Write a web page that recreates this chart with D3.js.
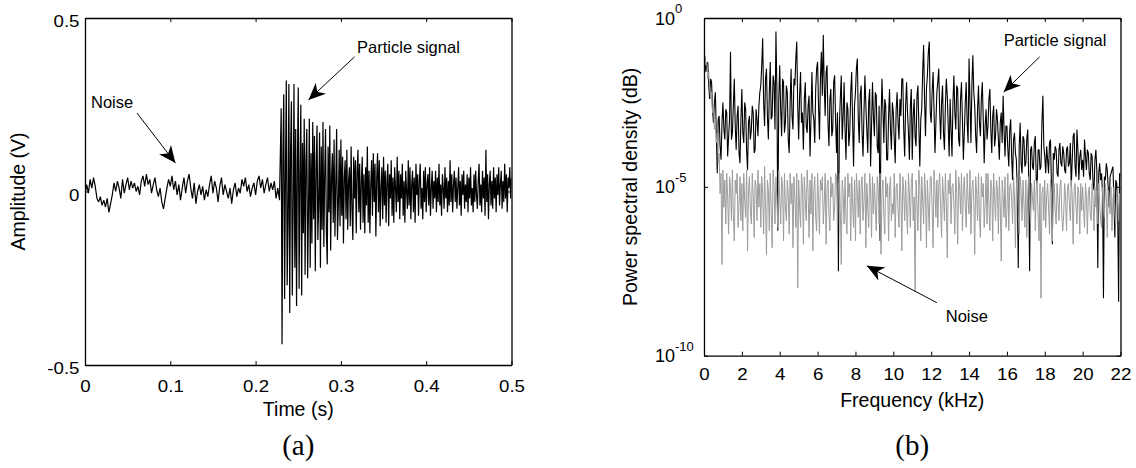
<!DOCTYPE html>
<html>
<head>
<meta charset="utf-8">
<script src="https://cdn.jsdelivr.net/npm/d3@7"></script>
<style>
  body { margin: 0; background: #fff; }
  svg { display: block; font-family: "Liberation Sans", Arial, sans-serif; }
  .caption { font-family: "Liberation Serif", "Times New Roman", serif; font-size: 29px; }
</style>
</head>
<body>
<svg id="chart" width="1136" height="468"></svg>
<script>
// (a) time signal, amplitude in V
// 0 .. 0.228 s, background noise, one sample every 2 ms
var noiseStart = 0, noiseStep = 0.002;
var noiseAmp = [
  -0.010, 0.020, -0.005, 0.035, 0.010, 0.040, 0.015, -0.020, -0.030, -0.015,
  -0.040, -0.025, -0.045, -0.020, -0.060, -0.035, -0.010, 0.025, 0.000, 0.030,
  0.010, -0.020, 0.035, -0.005, 0.020, 0.040, 0.005, 0.030, 0.010, 0.025,
  0.000, 0.015, -0.010, 0.030, 0.045, 0.015, 0.050, 0.020, 0.035, -0.005,
  0.020, 0.040, 0.005, -0.015, 0.010, -0.030, -0.050, -0.020, 0.010, 0.035,
  0.015, 0.045, 0.005, 0.030, -0.010, 0.020, -0.025, 0.010, 0.040, -0.005,
  0.030, 0.050, 0.010, -0.020, 0.025, -0.035, 0.000, 0.020, -0.010, 0.015,
  -0.025, 0.005, -0.015, 0.020, 0.045, -0.005, 0.030, 0.010, -0.030, 0.015,
  0.040, -0.010, 0.020, 0.000, -0.020, 0.010, -0.035, 0.005, 0.025, -0.015,
  0.010, -0.005, 0.035, 0.015, 0.040, 0.000, 0.020, -0.015, 0.010, 0.025,
  -0.010, 0.030, 0.045, 0.010, 0.035, -0.005, 0.020, 0.040, 0.000, 0.025,
  0.005, 0.030, -0.020, 0.010, -0.025
];
// 0.230 .. 0.500 s, particle impact, one sample every 1 ms (one row per 10 ms)
var burstStart = 0.230, burstStep = 0.001;
var burstAmp = [
  0.24, -0.44, 0.10, 0.28, -0.31, 0.05, 0.32, -0.27, -0.08, 0.31,
  -0.35, 0.12, 0.26, -0.30, -0.05, 0.31, -0.22, 0.18, -0.33, 0.08,
  0.30, -0.28, 0.04, 0.25, -0.30, 0.14, -0.12, 0.21, -0.24, 0.09,
  0.18, -0.25, -0.06, 0.21, -0.22, 0.11, -0.15, 0.20, -0.08, 0.16,
  -0.23, 0.07, 0.19, -0.14, -0.03, 0.17, -0.22, 0.13, -0.11, 0.20,
  -0.16, 0.05, 0.18, -0.12, -0.21, 0.13, -0.06, 0.19, -0.17, 0.04,
  0.11, -0.09, 0.15, -0.13, 0.02, 0.18, -0.14, -0.04, 0.12, -0.10,
  0.15, -0.07, 0.10, -0.15, 0.04, 0.09, -0.08, 0.12, -0.11, 0.03,
  0.07, -0.10, 0.13, -0.05, -0.14, 0.10, -0.02, 0.09, -0.12, 0.06,
  0.12, -0.06, 0.08, -0.11, 0.03, 0.10, -0.09, 0.05, -0.12, 0.07,
  -0.04, 0.13, -0.09, 0.06, -0.12, 0.02, 0.09, -0.07, 0.11, -0.03,
  0.08, -0.13, 0.04, 0.11, -0.06, 0.09, -0.10, 0.01, 0.07, -0.08,
  0.10, -0.04, 0.06, -0.09, 0.03, 0.08, -0.10, 0.05, -0.02, 0.09,
  -0.07, 0.04, -0.09, 0.07, 0.01, -0.06, 0.10, -0.03, 0.06, -0.08,
  0.05, -0.02, 0.08, -0.07, 0.03, -0.09, 0.06, 0.00, -0.05, 0.09,
  -0.04, 0.07, -0.08, 0.02, 0.06, -0.06, 0.04, -0.09, 0.08, -0.01,
  0.05, -0.07, 0.03, 0.08, -0.05, 0.01, -0.08, 0.06, -0.03, 0.07,
  -0.06, 0.02, 0.05, -0.04, 0.07, -0.07, 0.01, 0.06, -0.05, 0.03,
  -0.02, 0.06, -0.06, 0.04, -0.03, 0.08, -0.04, 0.02, -0.07, 0.05,
  0.01, -0.05, 0.07, -0.02, 0.04, -0.06, 0.03, -0.04, 0.09, -0.03,
  0.05, -0.06, 0.02, 0.06, -0.03, 0.04, -0.05, 0.01, 0.07, -0.04,
  0.03, -0.07, 0.05, -0.01, 0.06, -0.05, 0.02, -0.03, 0.05, -0.06,
  0.04, -0.02, 0.07, -0.04, 0.01, -0.06, 0.05, -0.03, 0.06, -0.01,
  -0.05, 0.03, 0.08, -0.04, 0.02, -0.06, 0.06, -0.02, 0.04, -0.07,
  0.12, -0.03, 0.05, -0.08, 0.02, 0.06, -0.04, 0.03, -0.05, 0.07,
  -0.02, 0.04, -0.06, 0.05, -0.01, 0.07, -0.04, 0.02, 0.06, -0.05,
  0.03, -0.03, 0.08, -0.02, 0.05, -0.06, 0.04, 0.01, 0.07, -0.02,
  0.04
];
var timeTicks = [0, 0.1, 0.2, 0.3, 0.4, 0.5];
var ampTicks = [-0.5, 0, 0.5];

// (b) spectrum, log10 of the PSD, bins evenly spaced 0 .. 22 kHz (one row per kHz)
var freqMax = 22;
var noisePsdExp = [
  -1.0, -1.2, -1.4, -1.3, -1.8, -1.6, -2.1, -2.4, -2.2, -2.8, -2.6, -3.3, -3.0, -3.7, -3.4, -4.3, -4.0, -5.2, -4.6, -7.3,
  -4.5, -5.6, -4.8, -6.1, -4.6, -5.3, -6.4, -4.7, -5.0, -6.0, -4.5, -5.8, -6.6, -4.8, -5.2, -4.6, -6.2, -5.5, -4.7, -6.0,
  -4.9, -6.3, -4.6, -5.4, -5.9, -4.5, -6.9, -5.1, -4.7, -5.7, -6.1, -4.6, -5.3, -6.5, -4.8, -5.0, -6.0, -4.5, -5.6, -4.9,
  -6.2, -4.7, -5.2, -6.4, -4.4, -5.5, -7.0, -4.8, -5.1, -6.3, -4.6, -5.7, -6.8, -4.5, -5.0, -6.1, -4.7, -5.4, -6.2, -4.5,
  -5.3, -6.1, -4.7, -5.0, -6.6, -4.6, -5.6, -6.0, -4.8, -5.2, -6.4, -4.6, -5.5, -4.9, -6.8, -4.7, -5.3, -6.2, -4.6, -8.0,
  -4.8, -5.6, -6.2, -4.6, -5.0, -6.7, -4.7, -5.4, -6.0, -4.5, -5.2, -6.5, -4.8, -5.8, -4.6, -6.9, -5.1, -4.7, -5.9, -6.3,
  -4.6, -5.4, -6.4, -4.8, -5.1, -4.7, -6.1, -5.5, -4.6, -6.7, -5.0, -4.8, -5.8, -6.3, -4.7, -5.3, -4.9, -6.0, -5.6, -4.6,
  -4.7, -6.3, -5.0, -4.6, -5.7, -7.3, -4.8, -5.2, -6.1, -4.7, -5.9, -6.4, -4.6, -5.3, -4.9, -6.6, -4.7, -5.5, -6.2, -4.8,
  -6.6, -4.6, -5.2, -5.9, -4.8, -6.4, -5.0, -4.7, -6.0, -5.4, -4.6, -6.8, -4.9, -5.6, -6.2, -4.6, -5.1, -6.5, -4.7, -5.8,
  -4.9, -5.6, -6.3, -4.7, -5.0, -6.1, -4.6, -7.0, -5.2, -4.8, -5.9, -6.4, -4.7, -5.3, -4.9, -6.6, -5.1, -4.7, -6.0, -5.5,
  -5.8, -4.6, -6.5, -5.0, -4.9, -5.7, -6.2, -4.6, -5.3, -6.9, -4.7, -5.1, -6.0, -4.8, -5.7, -6.4, -4.6, -5.2, -6.2, -4.9,
  -4.6, -6.0, -5.3, -8.1, -4.8, -5.5, -6.3, -4.5, -5.0, -6.6, -4.7, -5.4, -6.1, -4.6, -5.2, -6.8, -4.8, -5.6, -6.3, -4.7,
  -4.7, -5.6, -6.8, -4.5, -5.1, -5.9, -4.8, -6.2, -5.0, -4.6, -5.7, -6.5, -4.7, -5.3, -6.0, -4.6, -5.5, -7.1, -4.8, -5.2,
  -4.6, -6.1, -5.0, -4.9, -5.5, -6.4, -4.5, -5.2, -6.7, -4.7, -5.0, -5.8, -4.6, -6.3, -5.1, -4.7, -5.6, -6.2, -4.6, -5.4,
  -5.8, -4.5, -6.4, -5.1, -4.8, -5.4, -7.0, -4.7, -5.2, -6.0, -4.6, -5.9, -6.5, -4.7, -5.3, -4.9, -6.2, -5.5, -4.6, -6.1,
  -4.6, -5.5, -6.3, -4.8, -5.0, -6.6, -4.6, -5.3, -6.0, -4.8, -5.1, -6.4, -4.7, -5.6, -7.2, -4.8, -5.2, -5.9, -4.7, -6.2,
  -5.7, -4.6, -6.3, -5.0, -4.9, -5.4, -6.1, -4.7, -5.3, -6.8, -5.0, -4.7, -5.8, -6.4, -4.7, -5.1, -6.0, -4.8, -5.5, -6.2,
  -4.8, -6.5, -5.2, -4.7, -5.6, -6.1, -4.9, -5.3, -5.7, -4.8, -6.3, -5.0, -4.8, -5.9, -6.6, -4.9, -8.3, -5.2, -5.0, -6.0,
  -4.8, -6.2, -5.3, -4.9, -5.6, -6.4, -4.8, -5.1, -6.6, -5.0, -4.9, -5.7, -6.1, -4.9, -5.4, -6.0, -5.0, -4.8, -5.8, -6.3,
  -5.8, -4.9, -5.4, -6.3, -5.0, -4.9, -5.5, -6.0, -4.8, -5.3, -6.7, -5.1, -4.9, -5.6, -6.1, -5.0, -5.2, -6.4, -4.9, -5.7,
  -5.0, -5.7, -6.2, -4.9, -5.3, -6.4, -5.2, -5.0, -5.8, -6.0, -4.9, -5.4, -6.3, -5.0, -5.6, -5.1, -6.1, -4.9, -5.5, -6.0,
  -6.2, -5.0, -5.4, -5.9, -4.9, -5.3, -6.5, -5.1, -5.2, -5.8, -5.0, -6.3, -5.4, -5.0, -5.8, -6.1, -5.1, -5.5, -6.0, -5.2,
  -5.2
];
var signalPsdExp = [
  -1.0, -1.2, -1.6, -1.4, -1.3, -2.0, -2.4, -1.8, -1.9, -2.7, -3.1, -2.5, -2.2, -3.4, -4.6, -3.0, -2.9, -3.8, -4.2, -3.1,
  -2.5, -3.3, -3.6, -2.7, -2.8, -4.1, -3.5, -3.0, -1.0, -3.6, -3.4, -2.6, -1.8, -3.2, -3.9, -2.9, -2.6, -4.0, -4.3, -3.0,
  -2.1, -3.4, -3.7, -2.5, -2.7, -3.9, -4.5, -3.1, -2.9, -3.6, -3.3, -2.6, -2.8, -4.0, -3.9, -2.7, -3.0, -3.5, -2.6, -2.2,
  -2.0, -1.4, -0.6, -2.5, -3.2, -1.8, -1.5, -2.9, -3.6, -2.2, -1.3, -3.0, -2.9, -1.7, -1.9, -3.3, -0.4, -2.1, -6.3, -2.4,
  -1.4, -2.7, -3.5, -1.8, -1.9, -3.4, -3.1, -2.0, -2.2, -3.6, -4.0, -2.5, -1.5, -2.9, -3.3, -1.8, -2.0, -1.2, -0.7, -2.6,
  -3.6, -2.3, -1.6, -3.1, -2.8, -3.9, -2.4, -1.9, -3.2, -3.4, -2.6, -2.3, -4.1, -3.0, -1.6, -2.8, -3.0, -3.7, -2.1, -1.5,
  -1.3, -2.6, -3.6, -1.8, -1.0, -2.3, -0.5, -2.0, -2.9, -1.6, -1.4, -3.1, -3.8, -2.4, -2.1, -3.5, -3.3, -1.9, -1.7, -3.0,
  -4.0, -2.8, -7.5, -3.2, -2.4, -1.7, -3.6, -2.9, -1.9, -3.3, -4.2, -2.5, -2.7, -3.8, -3.4, -2.2, -1.6, -3.1, -4.4, -2.6,
  -2.2, -1.5, -1.2, -3.0, -3.7, -2.3, -2.0, -3.4, -4.1, -2.8, -1.7, -2.6, -3.3, -4.0, -2.5, -2.1, -4.4, -3.2, -1.9, -2.9,
  -3.5, -2.2, -2.3, -3.8, -4.0, -2.6, -6.6, -3.1, -1.8, -2.7, -3.7, -2.4, -2.6, -4.2, -4.2, -2.9, -2.1, -3.3, -3.9, -2.5,
  -2.8, -3.6, -4.3, -2.7, -2.2, -3.1, -3.6, -2.4, -2.9, -1.8, -1.8, -3.3, -4.1, -2.6, -1.9, -2.8, -3.4, -4.2, -2.6, -2.1,
  -4.2, -2.9, -2.4, -3.5, -3.8, -2.3, -2.0, -3.2, -4.4, -3.0, -2.7, -1.6, -0.8, -2.4, -3.5, -2.1, -1.7, -1.0, -0.7, -2.8,
  -3.1, -2.2, -1.6, -2.7, -4.0, -3.1, -2.2, -1.9, -1.5, -2.8, -3.6, -2.5, -2.0, -3.4, -3.9, -2.6, -1.8, -2.3, -3.2, -4.1,
  -2.4, -3.3, -4.1, -2.5, -1.7, -2.8, -3.3, -2.0, -2.1, -3.6, -3.8, -2.4, -1.9, -3.0, -4.2, -3.4, -2.5, -1.9, -3.1, -3.7,
  -1.2, -2.5, -3.7, -2.0, -1.1, -2.2, -2.6, -3.5, -4.0, -2.7, -2.0, -3.1, -3.5, -2.4, -1.9, -3.0, -4.3, -3.2, -2.7, -3.6,
  -3.2, -2.4, -2.1, -3.3, -4.0, -2.9, -2.6, -3.8, -3.5, -2.7, -3.0, -3.6, -4.2, -3.1, -2.8, -3.7, -2.3, -3.3, -4.1, -3.2,
  -3.2, -3.9, -4.4, -3.3, -3.0, -4.1, -4.8, -3.6, -3.4, -4.0, -4.2, -5.2, -7.4, -3.8, -3.1, -4.3, -4.6, -3.5, -3.6, -4.4,
  -4.3, -3.6, -3.3, -4.7, -7.5, -3.9, -3.8, -4.4, -4.5, -3.7, -3.5, -4.8, -4.9, -3.9, -3.9, -4.5, -4.4, -3.1, -2.3, -3.8,
  -4.1, -4.6, -3.8, -4.2, -4.6, -3.7, -3.6, -4.9, -6.7, -4.0, -4.2, -3.8, -3.9, -4.6, -4.7, -3.9, -3.7, -4.3, -4.4, -3.8,
  -4.0, -4.5, -4.6, -3.9, -3.8, -4.4, -4.3, -3.7, -5.0, -4.2, -3.5, -3.4, -4.4, -4.7, -3.3, -3.9, -4.8, -4.1, -3.9, -4.5,
  -4.2, -4.7, -3.6, -4.1, -4.5, -3.9, -4.0, -4.6, -4.8, -4.0, -4.1, -4.9, -5.1, -4.2, -3.9, -4.5, -7.4, -4.6, -4.3, -4.8,
  -4.6, -5.2, -8.3, -4.7, -4.8, -4.3, -4.5, -5.0, -5.6, -4.7, -4.6, -4.5, -4.4, -5.3, -6.5, -4.8, -4.9, -5.6, -8.4, -4.6,
  -4.7
];
var freqTicks = [0, 2, 4, 6, 8, 10, 12, 14, 16, 18, 20, 22];
var psdTicks = [1e-10, 1e-5, 1];

var svg = d3.select('#chart');

var boxA = {left: 85, top: 18, right: 511.5, bottom: 365};
var boxB = {left: 704, top: 18, right: 1120.5, bottom: 355.7};

var xA = d3.scaleLinear().domain([0, 0.5]).range([boxA.left, boxA.right]);
var yA = d3.scaleLinear().domain([-0.5, 0.5]).range([boxA.bottom, boxA.top]);
var xB = d3.scaleLinear().domain([0, freqMax]).range([boxB.left, boxB.right]);
var yB = d3.scaleLog().domain([1e-10, 1]).range([boxB.bottom, boxB.top]);

function styleAxis(g) {
  g.attr('font-family', null).attr('font-size', null);
  g.select('.domain').attr('stroke', '#000').attr('stroke-width', 1.3);
  g.selectAll('.tick line').attr('stroke', '#000').attr('stroke-width', 1);
  g.selectAll('.tick text').attr('fill', '#000').style('font-size', '17px');
}

// box with inward ticks on all four sides, MATLAB style
function drawFrame(box, x, y, xTicks, yTicks, xPad, yLabels) {
  var fmt = function(d) { return String(d); };
  svg.append('g').attr('transform', 'translate(0,' + box.bottom + ')')
    .call(d3.axisBottom(x).tickValues(xTicks).tickSizeInner(-4).tickSizeOuter(0).tickPadding(xPad).tickFormat(fmt))
    .call(styleAxis)
    .selectAll('.tick text').attr('transform', 'scale(1.1,1)');
  svg.append('g').attr('transform', 'translate(0,' + box.top + ')')
    .call(d3.axisTop(x).tickValues(xTicks).tickSizeInner(-4).tickSizeOuter(0).tickFormat(''))
    .call(styleAxis);
  var left = svg.append('g').attr('transform', 'translate(' + box.left + ',0)')
    .call(d3.axisLeft(y).tickValues(yTicks).tickSizeInner(-4).tickSizeOuter(0).tickPadding(5)
      .tickFormat(yLabels ? fmt : ''))
    .call(styleAxis);
  left.selectAll('.tick text').attr('dy', '0.5em').attr('transform', 'scale(1.1,1)');
  svg.append('g').attr('transform', 'translate(' + box.right + ',0)')
    .call(d3.axisRight(y).tickValues(yTicks).tickSizeInner(-4).tickSizeOuter(0).tickFormat(''))
    .call(styleAxis);
}

function clipTo(id, box) {
  svg.append('clipPath').attr('id', id).append('rect')
    .attr('x', box.left).attr('y', box.top)
    .attr('width', box.right - box.left).attr('height', box.bottom - box.top);
}

function arrow(x1, y1, x2, y2) {
  var ang = Math.atan2(y2 - y1, x2 - x1) * 180 / Math.PI;
  svg.append('line')
    .attr('x1', x1).attr('y1', y1).attr('x2', x2).attr('y2', y2)
    .attr('stroke', '#000').attr('stroke-width', 1);
  svg.append('path')
    .attr('d', 'M0,0L-17,-7.5L-12,0L-17,7.5Z')
    .attr('transform', 'translate(' + x2 + ',' + y2 + ') rotate(' + ang + ')')
    .attr('fill', '#000');
}

function note(x, y, txt) {
  svg.append('text').attr('x', x).attr('y', y)
    .style('font-size', '16.5px').attr('fill', '#000').text(txt);
}

// ---------- panel (a) ----------
clipTo('clipA', boxA);
var ampData = noiseAmp.map(function(v, i) {
  return {t: noiseStart + i * noiseStep, v: v};
}).concat(burstAmp.map(function(v, i) {
  return {t: burstStart + i * burstStep, v: v};
}));
svg.append('path')
  .datum(ampData)
  .attr('clip-path', 'url(#clipA)')
  .attr('fill', 'none')
  .attr('stroke', '#000')
  .attr('stroke-width', 1.2)
  .attr('stroke-linejoin', 'bevel')
  .attr('d', d3.line().x(function(d) { return xA(d.t); }).y(function(d) { return yA(d.v); }));

drawFrame(boxA, xA, yA, timeTicks, ampTicks, 15, true);

svg.append('text')
  .attr('transform', 'translate(25,' + ((boxA.top + boxA.bottom) / 2) + ') rotate(-90)')
  .attr('text-anchor', 'middle').style('font-size', '19.5px').text('Amplitude (V)');
svg.append('text')
  .attr('x', (boxA.left + boxA.right) / 2).attr('y', 416)
  .attr('text-anchor', 'middle').style('font-size', '19.5px').text('Time (s)');
svg.append('text').attr('class', 'caption')
  .attr('x', (boxA.left + boxA.right) / 2).attr('y', 455)
  .attr('text-anchor', 'middle').text('(a)');

note(xA(0.007), yA(0.241), 'Noise');
arrow(xA(0.061), yA(0.226), xA(0.106), yA(0.082));
note(xA(0.319), yA(0.399), 'Particle signal');
arrow(xA(0.316), yA(0.388), xA(0.262), yA(0.264));

// ---------- panel (b) ----------
clipTo('clipB', boxB);
function psdLine(exps) {
  var n = exps.length - 1;
  return exps.map(function(e, i) { return {f: freqMax * i / n, p: Math.pow(10, e)}; });
}
var lineB = d3.line().x(function(d) { return xB(d.f); }).y(function(d) { return yB(d.p); });

svg.append('path')
  .datum(psdLine(signalPsdExp))
  .attr('clip-path', 'url(#clipB)')
  .attr('fill', 'none').attr('stroke', '#000').attr('stroke-width', 1.1)
  .attr('stroke-linejoin', 'bevel')
  .attr('d', lineB);
svg.append('path')
  .datum(psdLine(noisePsdExp))
  .attr('clip-path', 'url(#clipB)')
  .attr('fill', 'none').attr('stroke', '#9c9c9c').attr('stroke-width', 1)
  .attr('stroke-linejoin', 'bevel')
  .attr('d', lineB);

drawFrame(boxB, xB, yB, freqTicks, psdTicks, 12, false);

// 10^n labels on the log axis
psdTicks.forEach(function(d) {
  var t = svg.append('text').attr('x', 655).attr('y', yB(d) + 6.5).attr('fill', '#000');
  t.append('tspan').style('font-size', '18px').text('10');
  t.append('tspan').attr('dy', -11.5).style('font-size', '13px')
    .text(String(Math.round(Math.log10(d))));
});

svg.append('text')
  .attr('transform', 'translate(637,' + ((boxB.top + boxB.bottom) / 2) + ') rotate(-90)')
  .attr('text-anchor', 'middle').style('font-size', '19.5px').text('Power spectral density (dB)');
svg.append('text')
  .attr('x', (boxB.left + boxB.right) / 2).attr('y', 407)
  .attr('text-anchor', 'middle').style('font-size', '19.5px').text('Frequency (kHz)');
svg.append('text').attr('class', 'caption')
  .attr('x', (boxB.left + boxB.right) / 2).attr('y', 455)
  .attr('text-anchor', 'middle').text('(b)');

note(xB(15.83), yB(Math.pow(10, -0.83)), 'Particle signal');
arrow(xB(17.73), yB(Math.pow(10, -1.15)), xB(15.83), yB(Math.pow(10, -2.19)));
note(xB(12.77), yB(Math.pow(10, -9.0)), 'Noise');
arrow(xB(12.3), yB(Math.pow(10, -8.43)), xB(8.6), yB(Math.pow(10, -7.34)));
</script>
</body>
</html>
